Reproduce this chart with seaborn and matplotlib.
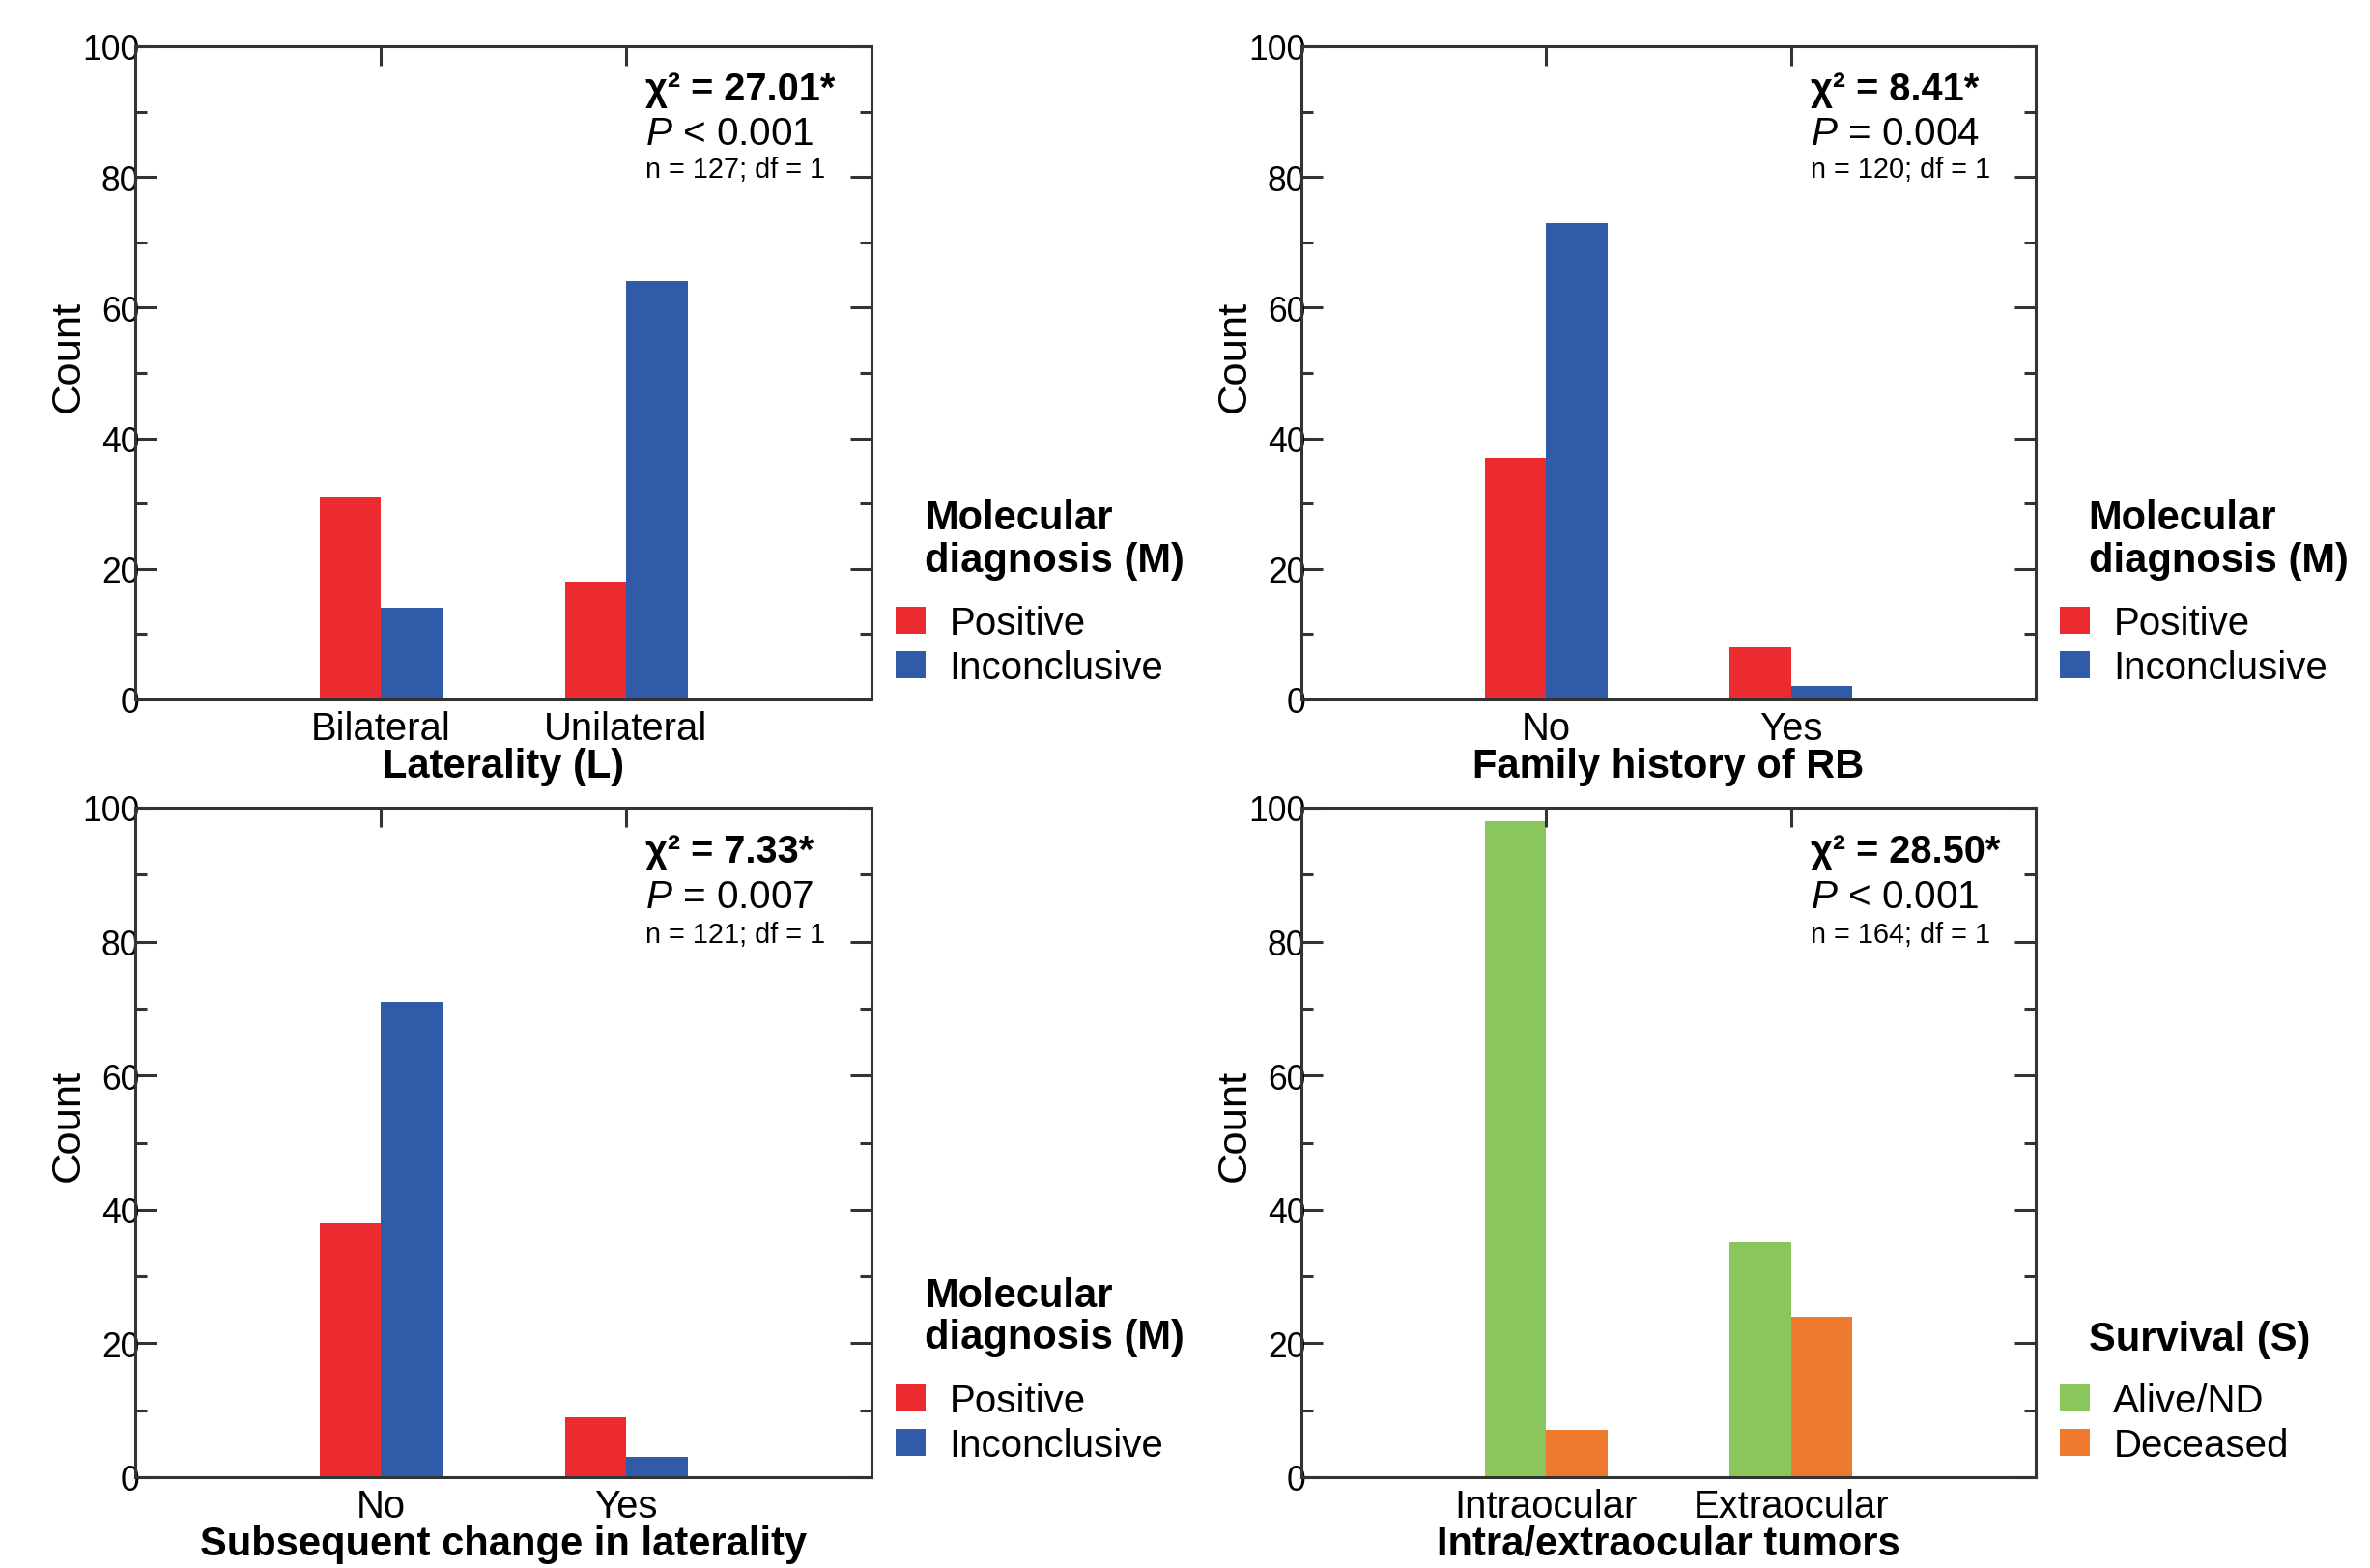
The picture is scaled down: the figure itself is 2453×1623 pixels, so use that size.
import matplotlib
matplotlib.use("Agg")
import matplotlib.pyplot as plt
import seaborn as sns
import pandas as pd
from matplotlib.ticker import MultipleLocator

# laterality panel
lat_cats = ["Bilateral", "Unilateral"]
lat_positive = [31, 18]
lat_inconclusive = [14, 64]

# family history panel
fam_cats = ["No", "Yes"]
fam_positive = [37, 8]
fam_inconclusive = [73, 2]

# subsequent change in laterality panel
chg_cats = ["No", "Yes"]
chg_positive = [38, 9]
chg_inconclusive = [71, 3]

# intra/extraocular tumors panel
tum_cats = ["Intraocular", "Extraocular"]
tum_alive = [98, 35]
tum_deceased = [7, 24]

mol_groups = ["Positive", "Inconclusive"]
surv_groups = ["Alive/ND", "Deceased"]
mol_colors = ["#EC2B31", "#2F5BA9"]
surv_colors = ["#8AC65B", "#EE7A2F"]

chi_texts = ["χ² = 27.01*", "χ² = 8.41*", "χ² = 7.33*", "χ² = 28.50*"]
p_texts = ["< 0.001", "= 0.004", "= 0.007", "< 0.001"]
n_texts = ["n = 127; df = 1", "n = 120; df = 1", "n = 121; df = 1", "n = 164; df = 1"]

plt.rcParams["font.family"] = ["Liberation Sans", "DejaVu Sans"]
plt.rcParams["mathtext.fontset"] = "custom"
plt.rcParams["mathtext.rm"] = "Liberation Sans"
plt.rcParams["mathtext.it"] = "Liberation Sans:italic"

EDGE = "#333333"
W, H = 2453, 1624


def panel_axes(fig, left, right, top, bottom):
    return fig.add_axes([left / W, 1 - bottom / H, (right - left) / W, (bottom - top) / H])


def draw_panel(ax, cats, vals_a, vals_b, groups, colors, xlabel, legend_title, title_y,
               chi, p, n):
    df = pd.DataFrame({
        "cat": cats + cats,
        "count": vals_a + vals_b,
        "group": [groups[0]] * len(cats) + [groups[1]] * len(cats),
    })
    sns.barplot(
        data=df, x="cat", y="count", hue="group",
        order=cats, hue_order=groups, palette=colors,
        width=0.5, saturation=1, linewidth=0, ax=ax,
    )
    ax.set_xlim(-1, 2)
    ax.set_ylim(0, 100)
    ax.yaxis.set_major_locator(MultipleLocator(20))
    ax.yaxis.set_minor_locator(MultipleLocator(10))
    for s in ax.spines.values():
        s.set_color(EDGE)
        s.set_linewidth(1.1)
    ax.tick_params(axis="y", which="both", direction="in", left=True, right=True,
                   color=EDGE, width=1.1, labelsize=12.8, pad=-1.5)
    ax.tick_params(axis="y", which="major", length=7.9)
    ax.tick_params(axis="y", which="minor", length=4.3)
    ax.tick_params(axis="x", bottom=False, top=True, direction="in", length=7.2,
                   color=EDGE, width=1.1, labelsize=14.4, pad=4)
    ax.set_ylabel("Count", fontsize=15.6)
    ax.yaxis.set_label_coords(-0.065, 0.527)
    ax.set_xlabel(xlabel, fontsize=15, fontweight="bold", labelpad=0)

    ax.text(0.693, 0.919, chi, transform=ax.transAxes, fontsize=14.3,
            fontweight="bold", va="baseline", ha="left")
    ax.text(0.693, 0.851, r"$\mathit{P}$ " + p, transform=ax.transAxes,
            fontsize=14.6, va="baseline", ha="left")
    ax.text(0.693, 0.800, n, transform=ax.transAxes, fontsize=10.4,
            va="baseline", ha="left")

    ax.legend(loc="lower left", bbox_to_anchor=(1.033, 0.02),
              frameon=False, fontsize=14.5,
              handlelength=0.77, handleheight=0.7, handletextpad=0.6,
              labelspacing=0.2, borderaxespad=0, borderpad=0)
    # legend heading, indented past the colour swatches as in the source figure
    ax.text(1.072, title_y, legend_title, transform=ax.transAxes, fontsize=15,
            fontweight="bold", va="baseline", ha="left", linespacing=1.12)


fig = plt.figure(figsize=(W / 200, H / 200), dpi=200)

ax1 = panel_axes(fig, 140, 902, 49, 725)
ax2 = panel_axes(fig, 1347, 2107, 49, 725)
ax3 = panel_axes(fig, 140, 902, 837, 1530)
ax4 = panel_axes(fig, 1347, 2107, 837, 1530)

mol_title = "Molecular\ndiagnosis (M)"
draw_panel(ax1, lat_cats, lat_positive, lat_inconclusive, mol_groups, mol_colors,
           "Laterality (L)", mol_title, 0.197, chi_texts[0], p_texts[0], n_texts[0])
draw_panel(ax2, fam_cats, fam_positive, fam_inconclusive, mol_groups, mol_colors,
           "Family history of RB", mol_title, 0.197, chi_texts[1], p_texts[1], n_texts[1])
draw_panel(ax3, chg_cats, chg_positive, chg_inconclusive, mol_groups, mol_colors,
           "Subsequent change in laterality", mol_title, 0.193,
           chi_texts[2], p_texts[2], n_texts[2])
draw_panel(ax4, tum_cats, tum_alive, tum_deceased, surv_groups, surv_colors,
           "Intra/extraocular tumors", "Survival (S)", 0.19,
           chi_texts[3], p_texts[3], n_texts[3])

fig.savefig("out.png", dpi=200, facecolor="white")
